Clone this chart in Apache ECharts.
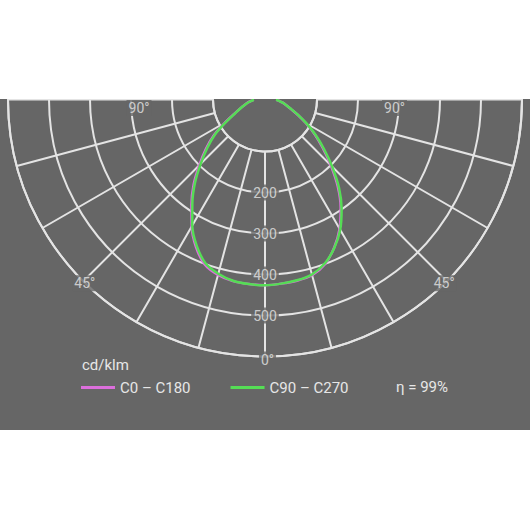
<!DOCTYPE html>
<html>
<head>
<meta charset="utf-8">
<script src="https://cdn.jsdelivr.net/npm/echarts@6/dist/echarts.min.js"></script>
<style>
  html, body { margin: 0; padding: 0; background: #fff; }
  #main { position: absolute; left: 0; top: 99px; width: 530px; height: 331px; overflow: hidden; }
</style>
</head>
<body>
<div id="main"></div>
<script>
// gamma angles (deg from nadir) and intensities in cd/klm
var gammas = [0, 5, 10, 15, 20, 25, 30, 35, 40, 45, 50, 55, 60, 65, 70, 75, 80, 85, 90, 135, 180];
var c0   = [426, 424, 422, 417, 401, 372, 337, 295, 249, 200, 157, 121, 88, 61, 40, 27, 17, 7, 0, 0, 0];
var c180 = [426, 425, 423, 416, 402, 371, 331, 286, 244, 200, 162, 126, 86, 56, 38, 25, 16, 6, 0, 0, 0];
var c90  = [426, 424, 421, 415, 399, 373, 340, 299, 254, 205, 161, 124, 90, 62, 41, 27, 17, 7, 0, 0, 0];
var c270 = [426, 425, 422, 413, 398, 367, 328, 282, 239, 195, 157, 122, 83, 54, 37, 24, 15, 5, 0, 0, 0];

var ringTicks = [200, 300, 400, 500];
var angleTicks = [0, 45, 90];
var seriesNames = ['C0 – C180', 'C90 – C270'];
var efficiency = 'η = 99%';
var unit = 'cd/klm';

var bg = '#666666';
var gridColor = '#e4e4e4';
var textColor = '#e6e6e6';

// right half runs from top down to nadir, left half from nadir back up
function plane(right, left) {
    var pts = [];
    for (var i = gammas.length - 1; i >= 0; i--) {
        pts.push([right[i], 360 - gammas[i]]);
    }
    for (var j = 0; j < gammas.length; j++) {
        pts.push([left[j], gammas[j]]);
    }
    return pts;
}

var labelData = [];
ringTicks.forEach(function(v) {
    labelData.push({ value: [v, 0], name: String(v) });
});
// angle labels sit on the outer ring, 90° ones on the 300 ring
var angleOffsets = {
    '0': [[2.5, 3]],
    '45': [[1.5, 2], [-2.5, 2]],
    '90': [[8, 8.5], [-4.5, 8.5]]
};
angleTicks.forEach(function(a) {
    var r = a === 90 ? 300 : 600;
    var offs = angleOffsets[String(a)];
    labelData.push({ value: [r, a], name: a + '°', label: { offset: offs[0] } });
    if (a !== 0) {
        labelData.push({ value: [r, 360 - a], name: a + '°', label: { offset: offs[1] } });
    }
});

var myChart = echarts.init(document.getElementById('main'), null, { renderer: 'svg' });

var option = {
    backgroundColor: bg,
    animation: false,
    textStyle: { fontFamily: 'Roboto' },
    // polar 0 draws the grid (rings from 100 outwards), polar 1 carries the data
    polar: [
        { center: [265, 0.5], radius: [52, 257] },
        { center: [265, 0.5], radius: [11, 257] }
    ],
    angleAxis: [
        {
            polarIndex: 0,
            type: 'value',
            min: 0,
            max: 360,
            interval: 15,
            startAngle: 270,
            clockwise: true,
            axisLine: { show: true, lineStyle: { color: gridColor, width: 2 } },
            axisTick: { show: false },
            axisLabel: { show: false },
            splitLine: { show: true, lineStyle: { color: gridColor, width: 2 } }
        },
        {
            polarIndex: 1,
            type: 'value',
            min: 0,
            max: 360,
            interval: 15,
            startAngle: 270,
            clockwise: true,
            show: false
        }
    ],
    radiusAxis: [
        {
            polarIndex: 0,
            type: 'value',
            min: 100,
            max: 600,
            interval: 100,
            axisLine: { show: false },
            axisTick: { show: false },
            axisLabel: { show: false },
            splitLine: { show: true, lineStyle: { color: gridColor, width: 2 } }
        },
        {
            polarIndex: 1,
            type: 'value',
            min: 0,
            max: 600,
            interval: 100,
            show: false
        }
    ],
    legend: {
        left: 81,
        top: 281,
        padding: 0,
        icon: 'rect',
        itemWidth: 34,
        itemHeight: 3,
        itemGap: 40,
        data: seriesNames,
        textStyle: { color: textColor, fontSize: 15, fontFamily: 'Roboto' }
    },
    graphic: [
        {
            type: 'text',
            left: 82,
            top: 258,
            style: { text: unit, fill: textColor, font: '15px Roboto' }
        },
        {
            type: 'text',
            left: 396,
            top: 280,
            style: { text: efficiency, fill: textColor, font: '15px Roboto' }
        }
    ],
    series: [
        {
            name: seriesNames[0],
            type: 'line',
            coordinateSystem: 'polar',
            polarIndex: 1,
            data: plane(c0, c180),
            symbol: 'none',
            smooth: 0.3,
            clip: false,
            lineStyle: { color: '#dc6fdc', width: 2.5 },
            itemStyle: { color: '#dc6fdc' },
            z: 3
        },
        {
            name: seriesNames[1],
            type: 'line',
            coordinateSystem: 'polar',
            polarIndex: 1,
            data: plane(c90, c270),
            symbol: 'none',
            smooth: 0.3,
            clip: false,
            lineStyle: { color: '#55dd55', width: 2.5 },
            itemStyle: { color: '#55dd55' },
            z: 4
        },
        {
            type: 'scatter',
            coordinateSystem: 'polar',
            polarIndex: 1,
            symbolSize: 0,
            silent: true,
            z: 10,
            data: labelData,
            label: {
                show: true,
                position: 'inside',
                formatter: '{b}',
                color: textColor,
                fontSize: 14,
                fontFamily: 'Roboto',
                backgroundColor: bg,
                padding: [1, 2]
            }
        }
    ]
};

myChart.setOption(option);
</script>
</body>
</html>
